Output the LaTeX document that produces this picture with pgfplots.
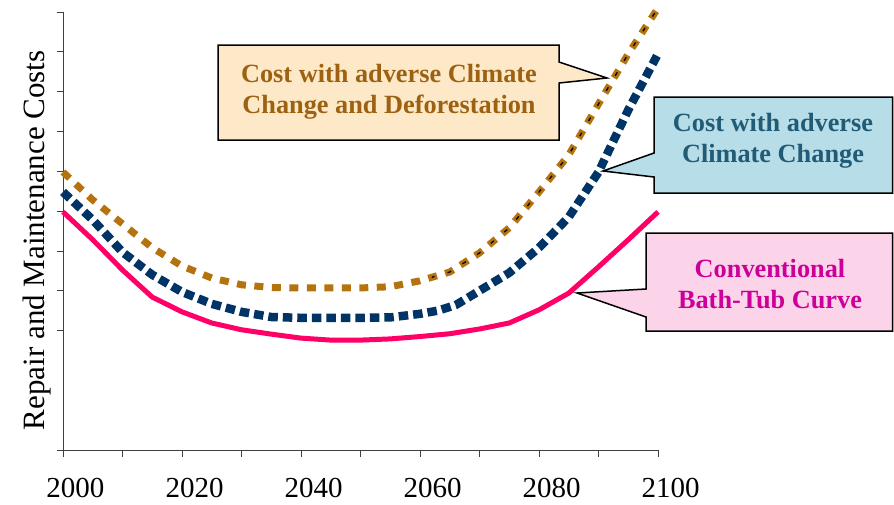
\documentclass[border=0pt]{standalone}
\usepackage{fontspec}
\setmainfont{Liberation Serif}
\usepackage{pgfplots}
\pgfplotsset{compat=1.18}

\definecolor{tubpink}{HTML}{FF0066}
\definecolor{ccnavy}{HTML}{003366}
\definecolor{defbrown}{HTML}{B5730F}
\definecolor{boxcream}{HTML}{FDE9C8}
\definecolor{boxteal}{HTML}{B7DEE8}
\definecolor{boxpink}{HTML}{FBD4EA}
\definecolor{txtbrown}{HTML}{9C6212}
\definecolor{txtteal}{HTML}{215B75}
\definecolor{txtpink}{HTML}{CC0099}

\begin{document}
\begin{tikzpicture}
\useasboundingbox (0pt,0pt) rectangle (894pt,-504pt);

\begin{axis}[
  at={(63pt,-450pt)}, anchor=south west,
  scale only axis, width=595pt, height=438pt,
  xmin=2000, xmax=2100, ymin=0, ymax=11,
  axis x line*=bottom, axis y line*=left,
  xtick={2000,2010,...,2100},
  xticklabels={2000,,2020,,2040,,2060,,2080,,2100},
  ytick={0,3,4,...,11}, yticklabels={},
  tick align=outside, major tick length=6.5pt,
  tick style={black!75, line width=0.8pt},
  axis line style={black!75, line width=0.8pt},
  /pgf/number format/assume math mode=true,
  xticklabel style={font=\fontsize{29}{29}\selectfont, inner sep=0pt,
    yshift=-22pt, xshift=12.5pt},
  ylabel={Repair and Maintenance Costs},
  ylabel style={at={(axis description cs:-0.044,0.479)}, anchor=center,
    font=\fontsize{31}{31}\selectfont},
  clip=false,
]
% conventional bath-tub curve
\addplot[tubpink, line width=5pt, line join=round] coordinates {
  (2000,5.98) (2005,5.28) (2010,4.52) (2015,3.84) (2020,3.47) (2025,3.19)
  (2030,3.02) (2035,2.91) (2040,2.81) (2045,2.76) (2050,2.76) (2055,2.79)
  (2060,2.85) (2065,2.92) (2070,3.04) (2075,3.19) (2080,3.52) (2085,3.94)
  (2090,4.60) (2095,5.28) (2100,5.98)};
% cost with adverse climate change
\addplot[ccnavy, line width=8.5pt, line join=round,
  dash pattern=on 9.5pt off 5pt] coordinates {
  (2000,6.48) (2005,5.78) (2010,4.97) (2015,4.40) (2020,3.97) (2025,3.67)
  (2030,3.47) (2035,3.34) (2040,3.32) (2045,3.32) (2050,3.32) (2055,3.33)
  (2060,3.42) (2063,3.50) (2066,3.64) (2070,4.00) (2075,4.45) (2080,5.08)
  (2085,5.85) (2090,6.98) (2095,8.54) (2100,9.95)};
% cost with adverse climate change and deforestation
\pgfplotstableread{
year  cost
2000  6.98
2005  6.28
2010  5.68
2015  5.08
2020  4.62
2025  4.32
2030  4.15
2035  4.08
2040  4.07
2045  4.07
2050  4.07
2055  4.10
2060  4.25
2065  4.47
2070  4.95
2075  5.58
2080  6.48
2085  7.41
2090  8.69
2095  9.95
2100  11.10
}\deforestation
\addplot[defbrown, line width=7pt, line join=round,
  dash pattern=on 9pt off 8.5pt] table[x=year, y=cost] {\deforestation};
% dark inner strokes on the rising part of the dashed curve
\begin{scope}
  \clip (axis cs:2062,-1) rectangle (axis cs:2106,12);
  \addplot[black, line width=1.3pt,
    dash pattern=on 0pt off 2.5pt on 4pt off 11pt] table[x=year, y=cost] {\deforestation};
\end{scope}
\end{axis}

% callouts, drawn in picture pixel units
\begin{scope}[x=1pt, y=-1pt, line width=1.5pt, line join=miter]
  \filldraw[fill=boxcream, draw=black]
    (218,45) -- (559,45) -- (559,62) -- (607,78) -- (559,83) -- (559,140) -- (218,140) -- cycle;
  \node[txtbrown, align=center, font=\bfseries\fontsize{26.3}{31}\selectfont]
    at (389,92) {Cost with adverse Climate\\Change and Deforestation};

  \filldraw[fill=boxteal, draw=black]
    (654,97) -- (892.5,97) -- (892.5,193) -- (654,193) -- (654,177) -- (603,171) -- (654,153) -- cycle;
  \node[txtteal, align=center, font=\bfseries\fontsize{26.3}{31}\selectfont]
    at (773,141) {Cost with adverse\\Climate Change};

  \filldraw[fill=boxpink, draw=black]
    (646,233) -- (892.5,233) -- (892.5,331) -- (646,331) -- (646,317) -- (577,293) -- (646,289) -- cycle;
  \node[txtpink, align=center, font=\bfseries\fontsize{26.3}{31}\selectfont]
    at (770,284) {Conventional\\Bath-Tub Curve};
\end{scope}
\end{tikzpicture}
\end{document}
